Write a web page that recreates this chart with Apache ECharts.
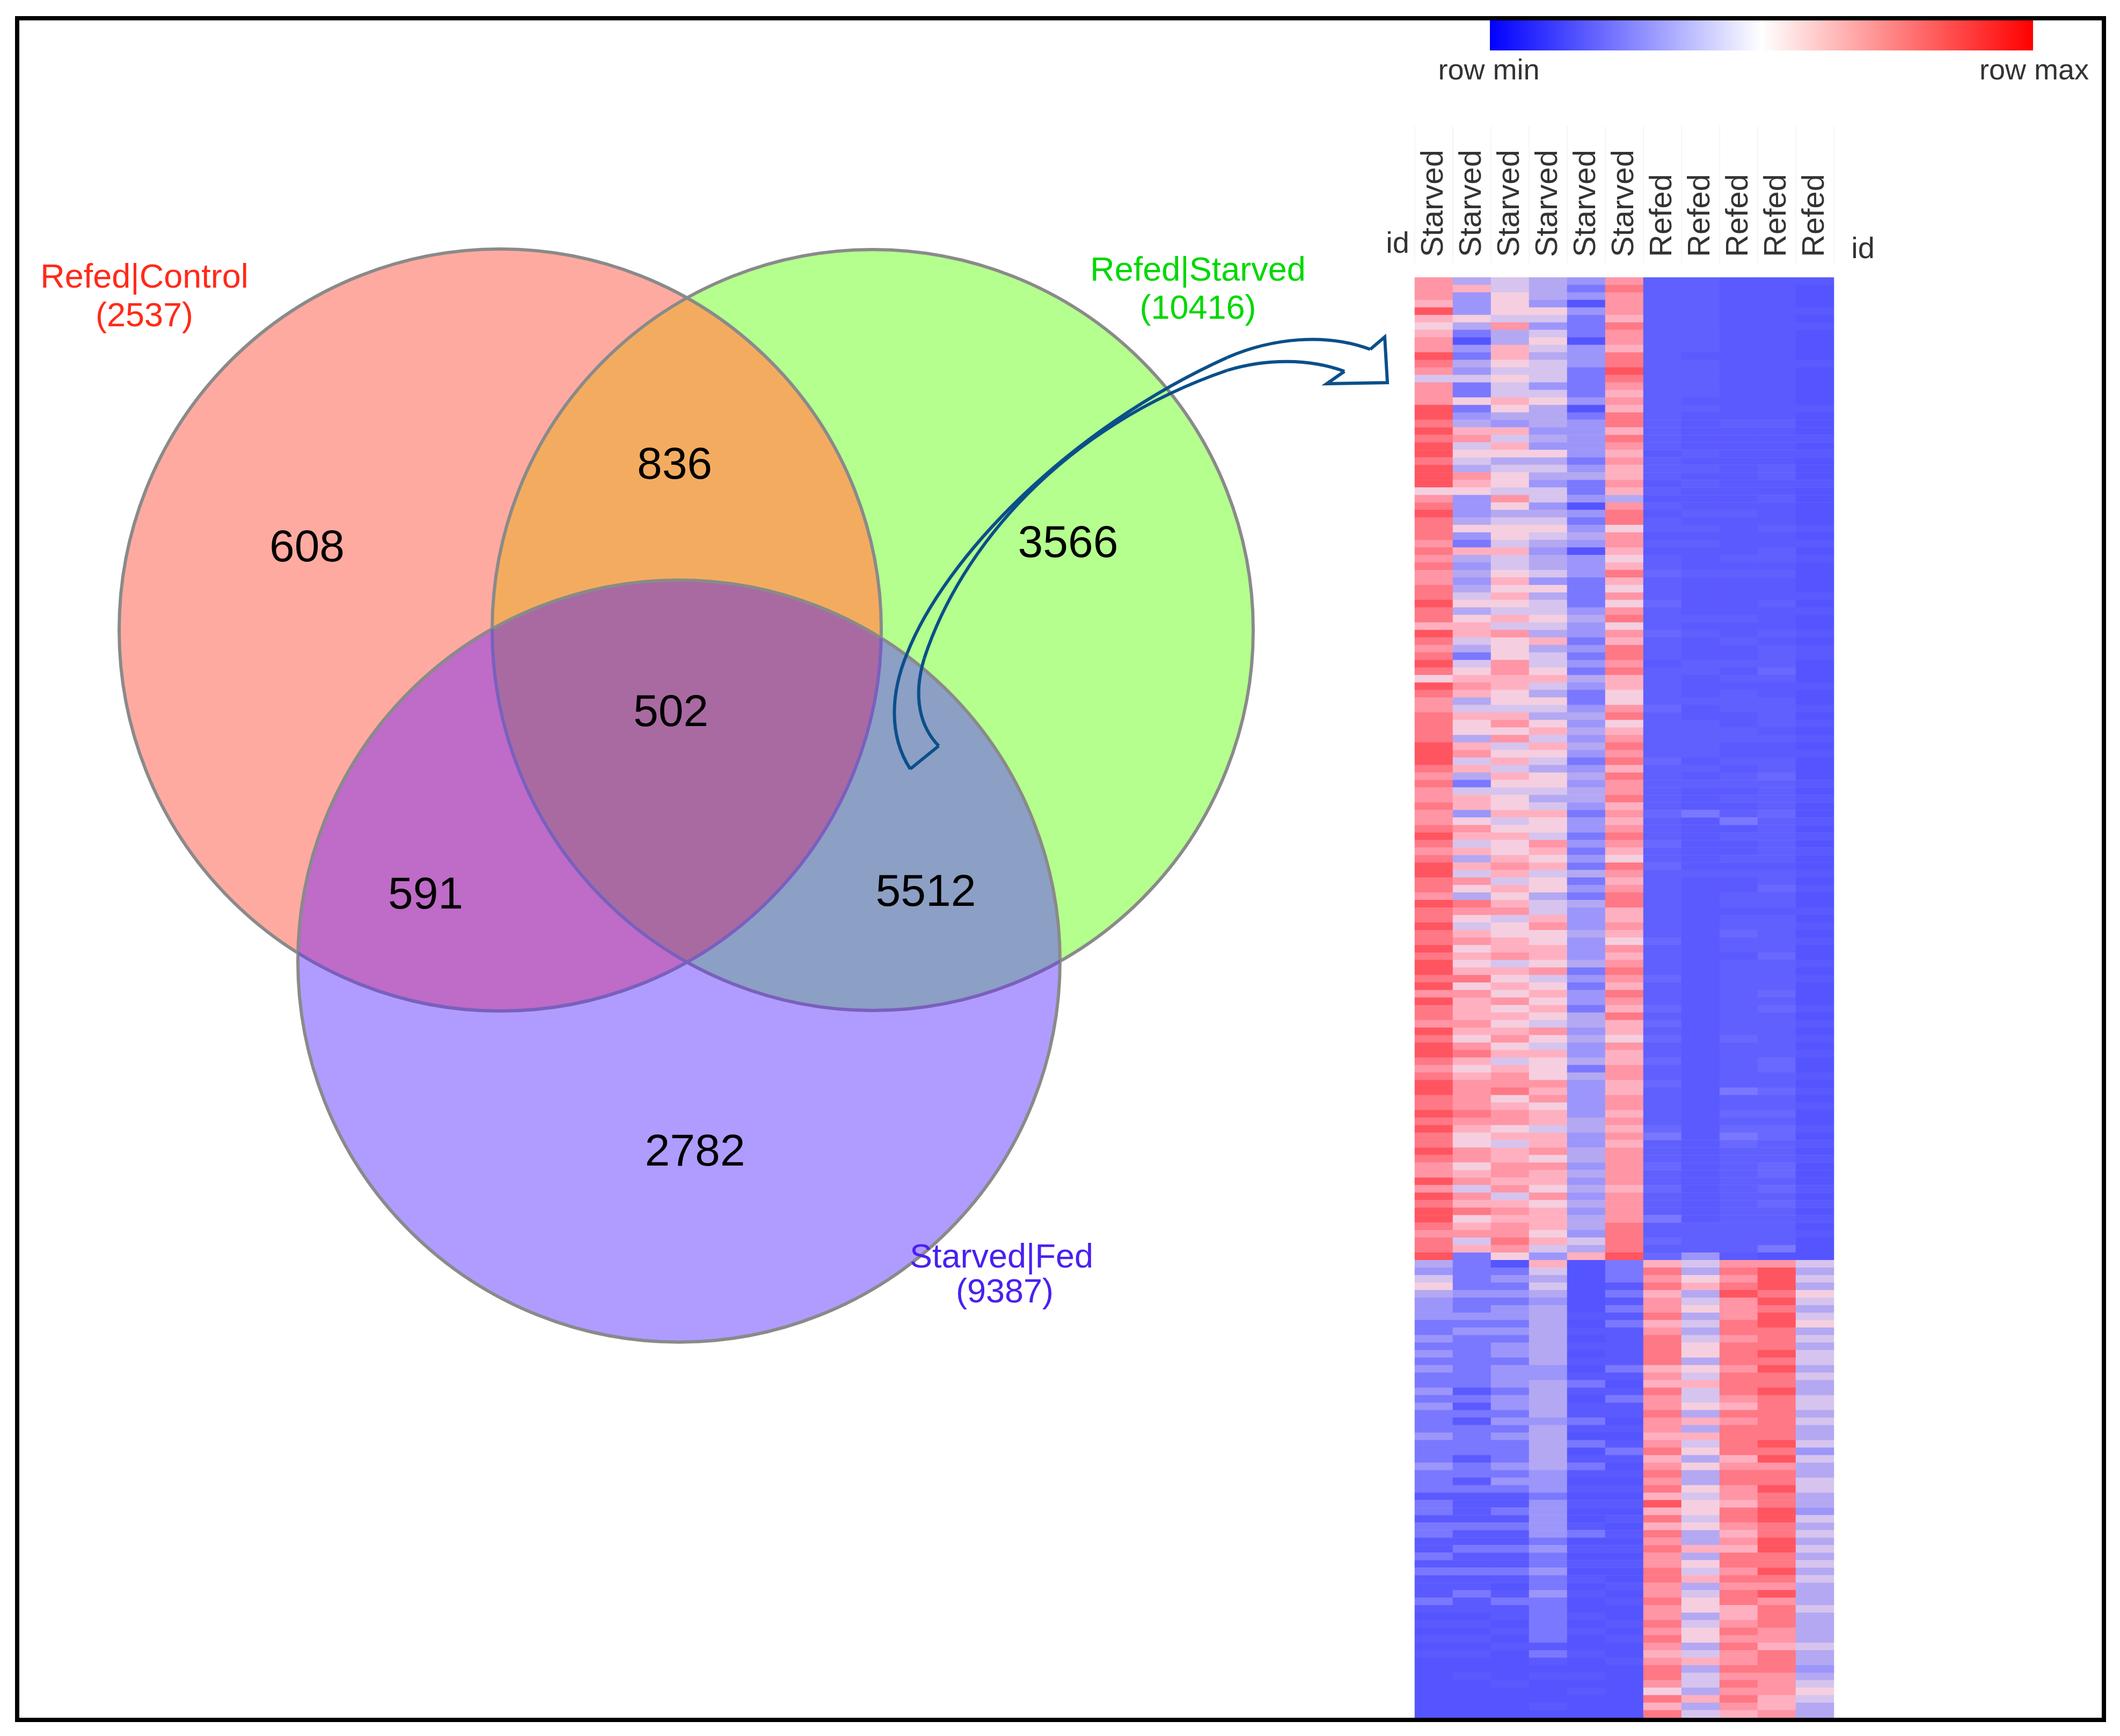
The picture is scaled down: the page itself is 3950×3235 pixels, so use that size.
<!DOCTYPE html>
<html>
<head>
<meta charset="utf-8">
<style>html,body{margin:0;padding:0;background:#fff}#chart{width:3950px;height:3235px}</style>
<script src="https://cdn.jsdelivr.net/npm/echarts@6/dist/echarts.min.js"></script>
</head>
<body>
<div id="chart"></div>
<script>
// ---------- Venn values ----------
const vennCounts = ['608', '836', '3566', '502', '591', '5512', '2782'];
const setNames = ['Refed|Control', 'Refed|Starved', 'Starved|Fed'];
const setTotals = ['(2537)', '(10416)', '(9387)'];

// ---------- Heatmap categories ----------
const columnNames = ['Starved', 'Starved', 'Starved', 'Starved', 'Starved', 'Starved', 'Refed', 'Refed', 'Refed', 'Refed', 'Refed'];
const colorbarLabels = ['row min', 'row max'];
const idLabel = 'id';

// ---------- Heatmap values, one character per row: 0 (coolest seen) .. 9 (warmest seen); a, b, c sit between 0 and 1 ----------
const starved1 = '7776965677 9874777998 9899899957 8988878787 7889886987 8985987788 8899987877 8778987899 8879889889 8998979887 9899878998 8989889877 9798998788 9 3245322211 2121211212 1112111211 1a11a11aa1 a1aaa1a0a0 a0a0000000 0';
const starved2 = '3622253102 1324115123 6745437652 2235216323 2345356643 1456763465 5367463146 6257646364 7538754675 6568576667 6578656777 7876557756 7476856746 1 1111211212 1111111a1a 1a1111a11a 1aaaa1aa1a a1aa1aa0a0 a0a00a0000 0';
const starved3 = '4455547336 6545446532 6465345547 5345546445 6565464755 5776655467 5745646545 5645655676 4656745566 7465657565 6756467785 6775646677 6746767787 5 0121212212 1221222122 1212111212 1aa1a1aa1a a1a0a1aa0a 0a0000a000 0';
const starved4 = '3332542454 3444245333 2325343244 2345432334 2534454363 4456435435 6465435543 4655476564 5534467556 6574565654 7546555767 5664667576 6575666564 2 6434323333 3333223333 3233333322 2122222121 1211211111 1a1a0a000a 0';
const starved5 = '2120211102 2211112012 2222123112 0212320222 1111232212 1213211232 3232123233 2122121213 1213222322 2312122133 2322313222 2233223323 2323233243 6 0000000a0a 0a0a0a1a0a a1a010a1a0 a0a00a10a0 a0a0a00a0a 00a00a0a00 0';
const starved6 = '7877768776 8898767688 6876766763 7885776568 6575785768 8786655785 6787868778 6767876587 6788667657 6787687686 6576677667 7676767777 7677778888 9 111a1a1a1a aaaa1a0a1a a0a0a1a0a0 a0a0a0a0a0 a00a0a00a0 a00a000000 0';
const refed1 = 'bbbbbbbbbb bbbbbbbbbb bbbabbbaba babbababbc bbbcbbbcbb babbbbbcbb bbbbcbbbbb bcbbbcbbcb bbbbbbbbcb bbbcbbbcbc bcbbcbbcbb bbbc1bbbcb bcbbb1bbcb c 6878677867 8888676877 8776786787 8696868787 7887787787 8767887586 8';
const refed2 = 'bbbbbbbbbb abbbbbabaa aaabababaa abababaaab aaaaababaa abbaaabaab bbbbababaa a1aaaaaaab aaaaaaaaaa aaaaaaaaaa aaaaaaaaaa aaaaaaaaaa aaaaaabbbb 2 4356345343 4553546445 3636453533 5455453363 5463455345 5346344363 4';
const refed3 = 'aaaaaaaaaa aaaaaaaaab aaaaaaaaaa abaaaaabab aaaaabaaba abababbbaa bbaababbab ab1abaabab aabbabbcbb abbbbbbbbb bcbbbbbb1b bcbc1cbbbb bbbbbbbbbb a 7878977788 7888788876 8788886788 7768876768 8787886678 7877878787 6';
const refed4 = 'aaaaaaaaaa aaaaaaaaab aaaaabbaab aaabaabbab aaabaaabab bbcbaabbbb abaabbcbbb bcbbbbbbab bcbbabbbbb cbbbbcbcbb bbbbccbbcb bcbccbbbcc bcbcbbbbb1 0 7999898998 8898988988 8888989788 9889988998 8987978887 7688877766 7';
const refed5 = 'a000a0a000 0a00000a00 0a0a000a00 000a0a0a00 00a0a00a0a a000a00a0a 0a0a000a0a 00a0a0a00a 0a00a0a0a0 0a0a000a0a 0a0a00a0a0 a00a0a0a00 0a0a0a0a00 0 4343543453 4344343344 3433424334 4332434343 4343334333 3433234543 3';
const heatColumns = [starved1, starved2, starved3, starved4, starved5, starved6, refed1, refed2, refed3, refed4, refed5];
const betweenLevels = { a: 0.15, b: 0.3, c: 0.55 };

// ---------- Layout and styling (separate from the values) ----------
const FONT = '"Liberation Sans", Arial, sans-serif';
const W = 3950, H = 3235;
const heatPalette = ['#5555ff', '#7a78ff', '#9c96fb', '#b4a8f2', '#d6c4ee', '#f5cfdf', '#ffb0c0', '#ff95a5', '#ff7885', '#ff5560'];
const circleX = [932, 1626, 1265];
const circleY = [1174, 1174, 1791];
const circleR = [710, 709, 710];
const circleFill = ['#FFAAA0', '#B4FF8E', '#B09CFF'];
const overlapMembers = [[0, 1], [0, 2], [1, 2], [0, 1, 2]];
const overlapFill = ['#F3AC5F', '#BF6BC8', '#8C9FC5', '#A96AA2'];
const outlineDraw = [[0], [1], [2], [0, 2], [1, 2]];
const outlineColor = ['#8a8a8a', '#8a8a8a', '#8a8a8a', '#7A5FC0', '#7A5FC0'];
const countX = [572, 1257, 1990, 1250, 793, 1725, 1295];
const countY = [1023, 869, 1015, 1330, 1670, 1665, 2149];
const nameX = [269, 2232, 1866], nameY = [519, 506, 2345];
const totalX = [269, 2232, 1872], totalY = [591, 577, 2410];
const setTextColor = ['#FF2A1A', '#00D800', '#4A20F0'];
const arrowColor = '#0B4F8A';
const arrowCurves = [
  [[1696,1433],[1655,1370],[1660,1290],[1690,1218]],
  [[1690,1218],[1760,1040],[1990,800],[2287,666]],
  [[2287,666],[2370,630],[2470,620],[2553,651]],
  [[2505,692],[2440,668],[2360,668],[2287,690]],
  [[2287,690],[1980,795],[1790,1020],[1722,1227]],
  [[1722,1227],[1700,1300],[1715,1355],[1749,1390]]
];
const arrowHead = [[2553,651],[2580,628],[2585,713],[2472,715],[2505,692]];
const arrowTail = [[1749,1390],[1696,1433]];
const frameBox = [32, 34, 3920, 3205];
const barBox = [2776, 38, 3788, 94];
const barStops = ['#0000ff', '#ffffff', '#ff0000'];
const barTextX = [2774, 3790], barTextY = 133;
const idX = [2604, 3471], idY = [456, 466];

// ---------- Build heat cells ----------
const heatData = [];
let rowCount = 0;
heatColumns.forEach((text, col) => {
  const cells = text.replace(/ /g, '').split('');
  rowCount = Math.max(rowCount, cells.length);
  cells.forEach((ch, row) => {
    const v = ch in betweenLevels ? betweenLevels[ch] : Number(ch);
    heatData.push([col, row, v]);
  });
});
const rowNames = [];
for (let i = 0; i < rowCount; i++) rowNames.push(String(i));

function circleEl(api, i, style) {
  const c = api.coord([circleX[i], circleY[i]]);
  const r = api.size([circleR[i], 0])[0];
  const el = { type: 'circle', shape: { cx: c[0], cy: c[1], r: r } };
  if (style) el.style = style;
  return el;
}
function clipped(api, clips, child) {
  let el = child;
  clips.forEach(i => {
    el = { type: 'group', clipPath: circleEl(api, i), children: [el] };
  });
  return el;
}
const arrowStyle = { stroke: arrowColor, lineWidth: 6, fill: null, lineJoin: 'miter' };
function polyEl(api, pts) {
  return { type: 'polyline', shape: { points: pts.map(p => api.coord(p)) }, style: arrowStyle };
}
function curveEl(api, seg) {
  const p = seg.map(q => api.coord(q));
  return {
    type: 'bezierCurve',
    shape: { x1: p[0][0], y1: p[0][1], cpx1: p[1][0], cpy1: p[1][1], cpx2: p[2][0], cpy2: p[2][1], x2: p[3][0], y2: p[3][1] },
    style: arrowStyle
  };
}
function textEl(x, y, text, size, color) {
  return {
    type: 'text', x: x, y: y,
    style: { text: text, fontSize: size, fontFamily: FONT, fill: color, align: 'center', verticalAlign: 'middle' }
  };
}
function dummy(n) { const d = []; for (let i = 0; i < n; i++) d.push([0, 0]); return d; }

const option = {
  animation: false,
  backgroundColor: '#ffffff',
  grid: [
    { left: 0, top: 0, width: W, height: H, containLabel: false },
    { left: 2636, top: 517, width: 781, height: 2684, containLabel: false }
  ],
  xAxis: [
    { type: 'value', gridIndex: 0, min: 0, max: W, show: false },
    {
      type: 'category', gridIndex: 1, data: columnNames, position: 'top', offset: 27,
      axisLine: { show: false },
      axisTick: { show: true, length: 255, lineStyle: { color: '#f5f5f5', width: 2 } },
      splitLine: { show: false },
      axisLabel: { interval: 0, rotate: -90, margin: 11, color: '#333', fontSize: 58, fontFamily: FONT, hideOverlap: false }
    }
  ],
  yAxis: [
    { type: 'value', gridIndex: 0, min: 0, max: H, inverse: true, show: false },
    { type: 'category', gridIndex: 1, data: rowNames, inverse: true, show: false }
  ],
  visualMap: {
    type: 'continuous', seriesIndex: 0, min: 0, max: 9, calculable: false, show: false,
    inRange: { color: heatPalette }
  },
  series: [
    {
      name: 'heat', type: 'heatmap', xAxisIndex: 1, yAxisIndex: 1, data: heatData, progressive: 0,
      itemStyle: { borderWidth: 0 }, emphasis: { disabled: true }
    },
    {
      name: 'venn fills', type: 'custom', xAxisIndex: 0, yAxisIndex: 0, silent: true, z: 3,
      data: dummy(3),
      renderItem: (p, api) => circleEl(api, p.dataIndex, { fill: circleFill[p.dataIndex] })
    },
    {
      name: 'venn overlaps', type: 'custom', xAxisIndex: 0, yAxisIndex: 0, silent: true, z: 4,
      data: dummy(overlapMembers.length),
      renderItem: (p, api) => {
        const m = overlapMembers[p.dataIndex];
        const painted = m[m.length - 1];
        return clipped(api, m.slice(0, -1), circleEl(api, painted, { fill: overlapFill[p.dataIndex] }));
      }
    },
    {
      name: 'venn outlines', type: 'custom', xAxisIndex: 0, yAxisIndex: 0, silent: true, z: 5,
      data: dummy(outlineDraw.length),
      renderItem: (p, api) => {
        const d = outlineDraw[p.dataIndex];
        const st = { fill: null, stroke: outlineColor[p.dataIndex], lineWidth: 6 };
        return clipped(api, d.slice(1), circleEl(api, d[0], st));
      }
    },
    {
      name: 'arrow', type: 'custom', xAxisIndex: 0, yAxisIndex: 0, silent: true, z: 6,
      data: dummy(1),
      renderItem: (p, api) => ({
        type: 'group',
        children: arrowCurves.map(s => curveEl(api, s)).concat([polyEl(api, arrowHead), polyEl(api, arrowTail)])
      })
    },
    {
      name: 'colorbar', type: 'custom', xAxisIndex: 0, yAxisIndex: 0, silent: true, z: 6,
      data: dummy(1),
      renderItem: (p, api) => {
        const a = api.coord([barBox[0], barBox[1]]);
        const b = api.coord([barBox[2], barBox[3]]);
        return {
          type: 'rect',
          shape: { x: a[0], y: a[1], width: b[0] - a[0], height: b[1] - a[1] },
          style: {
            fill: new echarts.graphic.LinearGradient(0, 0, 1, 0, barStops.map((c, i) => ({ offset: i / (barStops.length - 1), color: c })))
          }
        };
      }
    },
    {
      name: 'texts', type: 'custom', xAxisIndex: 0, yAxisIndex: 0, silent: true, z: 7,
      data: dummy(1),
      renderItem: (p, api) => {
        const kids = [];
        const at = (x, y) => api.coord([x, y]);
        vennCounts.forEach((t, i) => { const c = at(countX[i], countY[i]); kids.push(textEl(c[0], c[1], t, 84, '#000')); });
        setNames.forEach((t, i) => { const c = at(nameX[i], nameY[i]); kids.push(textEl(c[0], c[1], t, 63, setTextColor[i])); });
        setTotals.forEach((t, i) => { const c = at(totalX[i], totalY[i]); kids.push(textEl(c[0], c[1], t, 63, setTextColor[i])); });
        colorbarLabels.forEach((t, i) => { const c = at(barTextX[i], barTextY); kids.push(textEl(c[0], c[1], t, 54, '#333')); });
        idX.forEach((x, i) => { const c = at(x, idY[i]); kids.push(textEl(c[0], c[1], idLabel, 56, '#333')); });
        return { type: 'group', children: kids };
      }
    },
    {
      name: 'frame', type: 'custom', xAxisIndex: 0, yAxisIndex: 0, silent: true, z: 8,
      data: dummy(1),
      renderItem: (p, api) => {
        const a = api.coord([frameBox[0], frameBox[1]]);
        const b = api.coord([frameBox[2], frameBox[3]]);
        return {
          type: 'rect',
          shape: { x: a[0], y: a[1], width: b[0] - a[0], height: b[1] - a[1] },
          style: { fill: null, stroke: '#000', lineWidth: 8 }
        };
      }
    }
  ]
};
const chart = echarts.init(document.getElementById('chart'), null, { renderer: 'canvas', width: W, height: H });
chart.setOption(option);
</script>
</body>
</html>
